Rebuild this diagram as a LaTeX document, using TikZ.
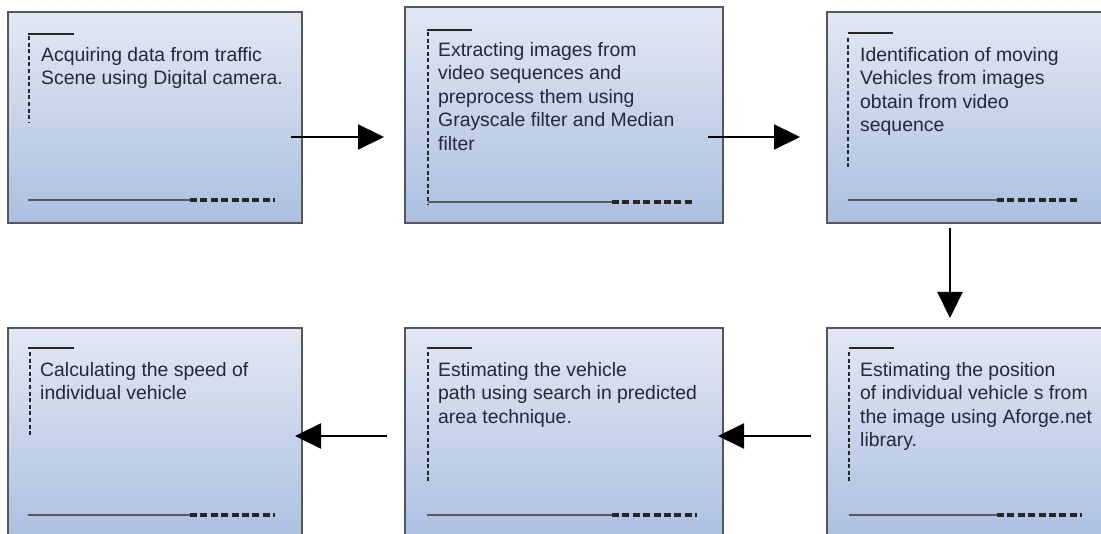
\documentclass[tikz,border=0pt]{standalone}
\usepackage{fontspec}
\setmainfont{Liberation Sans}
\usetikzlibrary{arrows.meta}
\definecolor{boxtop}{HTML}{E2E8F3}
\definecolor{boxbot}{HTML}{ABBFE0}
\definecolor{boxedge}{HTML}{55555A}
\definecolor{txtc}{HTML}{26263A}
\tikzset{
  stagebox/.style={draw=boxedge, line width=1.5pt, top color=boxtop, bottom color=boxbot,
    anchor=north west, inner sep=0pt, outer sep=0pt},
  stagetext/.style={anchor=north west, inner sep=0pt, align=left, text=txtc,
    font=\fontsize{19.4}{23.5}\selectfont},
  topmark/.style={draw=black!85, line width=1.6pt},
  sidedash/.style={draw=black!85, line width=2.8pt, dash pattern=on 4pt off 2.6pt},
  baseline/.style={draw=black!65, line width=1.5pt},
  basedash/.style={draw=black!85, line width=3.4pt, dash pattern=on 7pt off 3.4pt},
  flow/.style={draw=black, line width=2.2pt, -{Triangle[length=26pt,width=25pt]}}
}
\begin{document}
\begin{tikzpicture}[x=1pt,y=-1pt]
\useasboundingbox (0,0) rectangle (1101,534);
\clip (0,0) rectangle (1101,534);
% boxes
\node[stagebox, minimum width=294pt, minimum height=211pt] (b1) at (8,12) {};
\node[stagebox, minimum width=318pt, minimum height=216pt] (b2) at (405,7) {};
\node[stagebox, minimum width=300pt, minimum height=211pt] (b3) at (827,12) {};
\node[stagebox, minimum width=294pt, minimum height=215pt] (b4) at (8,328) {};
\node[stagebox, minimum width=318pt, minimum height=215pt] (b5) at (405,328) {};
\node[stagebox, minimum width=300pt, minimum height=215pt] (b6) at (827,328) {};
% box 1 decorations
\draw[topmark] (28,34) -- (74,34);
\draw[sidedash] (29,36) -- (29,122);
\draw[baseline] (28,200) -- (190,200);
\draw[basedash] (190,200) -- (275,200);
% box 2
\draw[topmark] (427,30) -- (472,30);
\draw[sidedash] (428,32) -- (428,205);
\draw[baseline] (428,202) -- (612,202);
\draw[basedash] (612,202) -- (695,202);
% box 3
\draw[topmark] (848,33) -- (893,33);
\draw[sidedash] (848,38) -- (848,167);
\draw[baseline] (848,200) -- (997,200);
\draw[basedash] (997,200) -- (1080,200);
% box 4
\draw[topmark] (28,348) -- (74,348);
\draw[sidedash] (30,352) -- (30,437);
\draw[baseline] (28,515) -- (190,515);
\draw[basedash] (190,515) -- (275,515);
% box 5
\draw[topmark] (427,348) -- (472,348);
\draw[sidedash] (428,352) -- (428,482);
\draw[baseline] (427,515) -- (612,515);
\draw[basedash] (612,515) -- (697,515);
% box 6
\draw[topmark] (849,348) -- (894,348);
\draw[sidedash] (849,352) -- (849,482);
\draw[baseline] (849,515) -- (997,515);
\draw[basedash] (997,515) -- (1082,515);
% texts
\node[stagetext] (t1) at (41,47) {Acquiring data from traffic\\Scene using Digital camera.};
\node[stagetext] (t2) at (438,42) {Extracting images from\\video sequences and\\preprocess them using\\Grayscale filter and Median\\filter};
\node[stagetext] (t3) at (860,47) {Identification of moving\\Vehicles from images\\obtain from video\\sequence};
\node[stagetext] (t4) at (40,362) {Calculating the speed of\\individual vehicle};
\node[stagetext] (t5) at (438,362) {Estimating the vehicle\\path using search in predicted\\area technique.};
\node[stagetext] (t6) at (860,362) {Estimating the position\\of individual vehicle s from\\the image using Aforge.net\\library.};
% connectors
\coordinate (a1s) at (291,137); \coordinate (a1e) at (384,137);
\coordinate (a2s) at (708,137); \coordinate (a2e) at (800,137);
\coordinate (a3s) at (950,228); \coordinate (a3e) at (950,318);
\coordinate (a4s) at (811,436); \coordinate (a4e) at (718,436);
\coordinate (a5s) at (387,436); \coordinate (a5e) at (295,436);
\draw[flow] (a1s) -- (a1e);
\draw[flow] (a2s) -- (a2e);
\draw[flow] (a3s) -- (a3e);
\draw[flow] (a4s) -- (a4e);
\draw[flow] (a5s) -- (a5e);
\end{tikzpicture}
\end{document}
